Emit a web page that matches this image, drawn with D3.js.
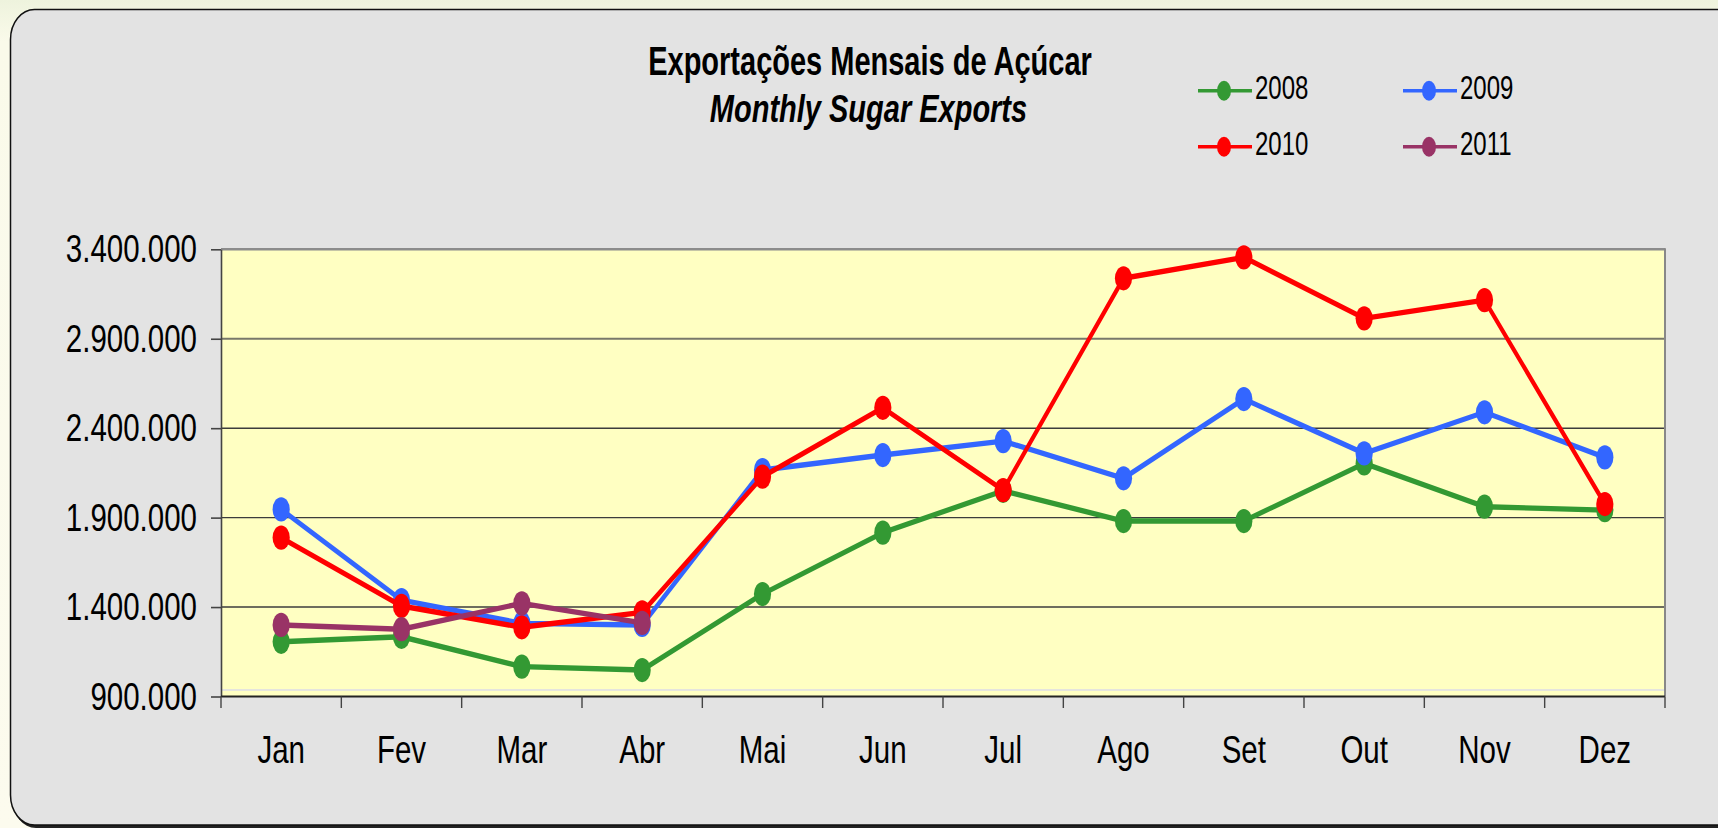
<!DOCTYPE html>
<html>
<head>
<meta charset="utf-8">
<script src="https://cdn.jsdelivr.net/npm/d3@7"></script>
<style>
  html, body { margin: 0; padding: 0; background: #fbfaec; overflow: hidden; }
  svg { display: block; font-family: "Liberation Sans", Arial, sans-serif; }
</style>
</head>
<body>
<svg id="chart" width="1718" height="828"></svg>
<script>
// ---- data ----
const months = ["Jan", "Fev", "Mar", "Abr", "Mai", "Jun", "Jul", "Ago", "Set", "Out", "Nov", "Dez"];
const years = ["2008", "2009", "2010", "2011"];
const s2008 = [1206000, 1234000, 1067000, 1048000, 1473000, 1816000, 2050000, 1881000, 1881000, 2203000, 1961000, 1942000];
const s2009 = [1946000, 1439000, 1309000, 1300000, 2166000, 2250000, 2328000, 2120000, 2563000, 2259000, 2489000, 2237000];
const s2010 = [1788000, 1406000, 1287000, 1370000, 2129000, 2514000, 2054000, 3238000, 3355000, 3014000, 3116000, 1976000];
const s2011 = [1300000, 1276000, 1421000, 1312000];
const yTicks = [900000, 1400000, 1900000, 2400000, 2900000, 3400000];
const colors = ["#339933", "#3366ff", "#ff0000", "#993366"];
const titleLine1 = "Exportações Mensais de Açúcar";
const titleLine2 = "Monthly Sugar Exports";

const seriesList = [s2008, s2009, s2010, s2011];

// ---- layout ----
const W = 1718, H = 828;
const plotL = 221, plotR = 1665, plotT = 249.3, plotB = 696.5;
const k = 1.41; // vertical stretch of the original picture

const svg = d3.select("#chart");

// outer background
const defs = svg.append("defs");
const bg = defs.append("linearGradient").attr("id", "bgGrad").attr("x1", 0).attr("y1", 0).attr("x2", 0).attr("y2", 1);
bg.append("stop").attr("offset", "0").attr("stop-color", "#eef3dd");
bg.append("stop").attr("offset", "0.05").attr("stop-color", "#fafaea");
bg.append("stop").attr("offset", "1").attr("stop-color", "#fcfbee");
svg.append("rect").attr("x", 0).attr("y", 0).attr("width", W).attr("height", H).attr("fill", "url(#bgGrad)");

// chart box with shadow
svg.append("rect").attr("x", 12).attr("y", 11).attr("width", 1730).attr("height", 817)
  .attr("rx", 24).attr("ry", 30).attr("fill", "#222");
svg.append("rect").attr("x", 10.5).attr("y", 9.5).attr("width", 1730).attr("height", 815.5)
  .attr("rx", 24).attr("ry", 30).attr("fill", "#e3e3e3").attr("stroke", "#111").attr("stroke-width", 1.5);

// plot area
svg.append("rect").attr("x", plotL).attr("y", plotT).attr("width", plotR - plotL).attr("height", plotB - plotT)
  .attr("fill", "#ffffc2");

// scales
const x = d3.scaleBand().domain(months).range([plotL, plotR]).paddingInner(0).paddingOuter(0);
const y = d3.scaleLinear().domain([900000, 3400000]).range([plotB, plotT]);
const xc = m => x(m) + x.bandwidth() / 2;

// gridlines
const gridStyle = v => v === 3400000 ? {c: "#8c8c8c", w: 2.5} : v === 2900000 ? {c: "#78786a", w: 2.2} : v === 900000 ? null : {c: "#3c3c3c", w: 1.4};
yTicks.forEach(v => {
  const st = gridStyle(v);
  if (!st) return;
  svg.append("line").attr("x1", plotL).attr("x2", plotR).attr("y1", y(v)).attr("y2", y(v))
    .attr("stroke", st.c).attr("stroke-width", st.w);
});
// faint line near bottom
svg.append("line").attr("x1", plotL).attr("x2", plotR).attr("y1", plotB - 6.5).attr("y2", plotB - 6.5)
  .attr("stroke", "#dcdce6").attr("stroke-width", 1.6);
// right border
svg.append("line").attr("x1", plotR).attr("x2", plotR).attr("y1", plotT - 1).attr("y2", plotB)
  .attr("stroke", "#888").attr("stroke-width", 2);

// y axis
const loc = d3.formatLocale({decimal: ",", thousands: ".", grouping: [3], currency: ["", ""]});
const fmt = loc.format(",");
const yAxis = svg.append("g").attr("transform", `translate(${plotL},0)`)
  .call(d3.axisLeft(y).tickValues(yTicks).tickFormat(fmt).tickSize(10).tickSizeOuter(0));
yAxis.select(".domain").attr("stroke", "#444").attr("stroke-width", 1.6);
yAxis.selectAll(".tick line").attr("stroke", "#444").attr("stroke-width", 1.6);
yAxis.selectAll(".tick text")
  .attr("x", null).attr("dy", null)
  .attr("transform", "translate(-24,12.5) scale(1,1.32)")
  .attr("font-size", 29.5).attr("fill", "#000")
  .attr("font-family", "Liberation Sans, Arial, sans-serif");

// x axis
const xAxisG = svg.append("g").attr("transform", `translate(0,${plotB})`);
xAxisG.append("line").attr("x1", plotL).attr("x2", plotR).attr("y1", 0).attr("y2", 0)
  .attr("stroke", "#222").attr("stroke-width", 2.2);
const bounds = months.map(m => x(m)).concat([plotR]);
xAxisG.selectAll("line.xt").data(bounds).enter().append("line").attr("class", "xt")
  .attr("x1", d => d).attr("x2", d => d).attr("y1", 0).attr("y2", 11.5)
  .attr("stroke", "#444").attr("stroke-width", 1.4);
svg.selectAll("g.mlab").data(months).enter().append("g").attr("class", "mlab")
  .attr("transform", d => `translate(${xc(d)},762.7) scale(1,1.3)`)
  .append("text").attr("text-anchor", "middle").attr("font-size", 29.5).attr("fill", "#000").text(d => d);

// series (drawn in a vertically-stretched group)
const innerH = (plotB - plotT) / k;
const yIn = d3.scaleLinear().domain([900000, 3400000]).range([innerH, 0]);
const pg = svg.append("g").attr("transform", `translate(0,${plotT}) scale(1,${k})`);
const line = d3.line().x((d, i) => xc(months[i])).y(d => yIn(d));
seriesList.forEach((s, si) => {
  const g = pg.append("g");
  g.append("path").attr("d", line(s)).attr("fill", "none").attr("stroke", colors[si])
    .attr("stroke-width", 3.8).attr("stroke-linejoin", "round");
  g.selectAll("circle").data(s).enter().append("circle")
    .attr("cx", (d, i) => xc(months[i])).attr("cy", d => yIn(d)).attr("r", 8.6)
    .attr("fill", colors[si]);
});

// title
svg.append("g").attr("transform", "translate(870,75) scale(1,1.4)")
  .append("text").attr("text-anchor", "middle").attr("font-size", 29).attr("font-weight", "bold")
  .attr("fill", "#000").text(titleLine1);
svg.append("g").attr("transform", "translate(868.5,121.7) scale(1,1.35)")
  .append("text").attr("text-anchor", "middle").attr("font-size", 29).attr("font-weight", "bold")
  .attr("font-style", "italic").attr("fill", "#000").text(titleLine2);

// legend
const legPos = [
  {lx: 1198, ly: 90.7}, {lx: 1403, ly: 90.7},
  {lx: 1198, ly: 146.7}, {lx: 1403, ly: 146.7}
];
years.forEach((yr, i) => {
  const p = legPos[i];
  const g = svg.append("g");
  g.append("line").attr("x1", p.lx).attr("x2", p.lx + 54).attr("y1", p.ly).attr("y2", p.ly)
    .attr("stroke", colors[i]).attr("stroke-width", 3.6);
  g.append("ellipse").attr("cx", p.lx + 26).attr("cy", p.ly).attr("rx", 7).attr("ry", 10).attr("fill", colors[i]);
  g.append("g").attr("transform", `translate(${p.lx + 57},${p.ly + 8.2}) scale(1,1.4)`)
    .append("text").attr("font-size", 24).attr("fill", "#000").text(yr);
});
</script>
</body>
</html>
